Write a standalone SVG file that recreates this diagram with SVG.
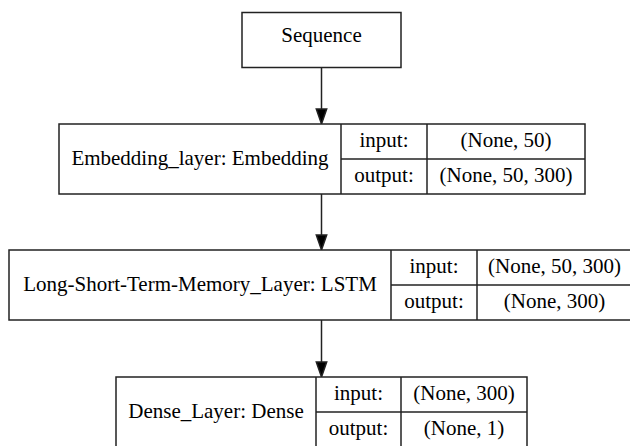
<svg xmlns="http://www.w3.org/2000/svg" width="630" height="446" viewBox="0 0 630 446">
<style>
  .box { fill: #fff; stroke: #222; stroke-width: 1.5; }
  .ln { stroke: #222; stroke-width: 1.5; fill: none; }
  .t { font-family: 'Liberation Serif', 'Times New Roman', Times, serif; font-size: 21px; fill: #000; text-anchor: middle; }
  .edge { stroke: #222; stroke-width: 1.5; fill: none; }
  .head { fill: #000; stroke: #222; stroke-width: 1.5; }
</style>
<rect width="630" height="446" fill="#fff"/>
<g id="connectors">
  <line class="edge" x1="321.5" y1="67" x2="321.5" y2="109"/>
  <polygon class="head" points="316.3,109 326.7,109 321.5,124"/>
  <line class="edge" x1="321.5" y1="194" x2="321.5" y2="235"/>
  <polygon class="head" points="316.3,235 326.7,235 321.5,250"/>
  <line class="edge" x1="321.5" y1="320" x2="321.5" y2="362"/>
  <polygon class="head" points="316.3,362 326.7,362 321.5,377"/>
</g>
<g id="sequence">
  <rect class="box" x="242" y="12.5" width="159" height="55"/>
  <text class="t" x="321.5" y="42">Sequence</text>
</g>
<g id="embedding">
  <rect class="box" x="59" y="124" width="526" height="70"/>
  <line class="ln" x1="341" y1="124" x2="341" y2="194"/>
  <line class="ln" x1="427" y1="124" x2="427" y2="194"/>
  <line class="ln" x1="341" y1="159" x2="585" y2="159"/>
  <text class="t" x="200" y="165">Embedding_layer: Embedding</text>
  <text class="t" x="384" y="147">input:</text>
  <text class="t" x="384" y="182">output:</text>
  <text class="t" x="506" y="147">(None, 50)</text>
  <text class="t" x="506" y="182">(None, 50, 300)</text>
</g>
<g id="lstm">
  <rect class="box" x="9" y="250" width="623" height="70"/>
  <line class="ln" x1="391" y1="250" x2="391" y2="320"/>
  <line class="ln" x1="477" y1="250" x2="477" y2="320"/>
  <line class="ln" x1="391" y1="285" x2="632" y2="285"/>
  <text class="t" x="200" y="291">Long-Short-Term-Memory_Layer: LSTM</text>
  <text class="t" x="434" y="273">input:</text>
  <text class="t" x="434" y="308">output:</text>
  <text class="t" x="554.5" y="273">(None, 50, 300)</text>
  <text class="t" x="554.5" y="308">(None, 300)</text>
</g>
<g id="dense">
  <rect class="box" x="116" y="377" width="411" height="72"/>
  <line class="ln" x1="316" y1="377" x2="316" y2="449"/>
  <line class="ln" x1="401" y1="377" x2="401" y2="449"/>
  <line class="ln" x1="316" y1="412" x2="527" y2="412"/>
  <text class="t" x="216" y="418">Dense_Layer: Dense</text>
  <text class="t" x="358.5" y="400">input:</text>
  <text class="t" x="358.5" y="435">output:</text>
  <text class="t" x="464" y="400">(None, 300)</text>
  <text class="t" x="464" y="435">(None, 1)</text>
</g>
</svg>
